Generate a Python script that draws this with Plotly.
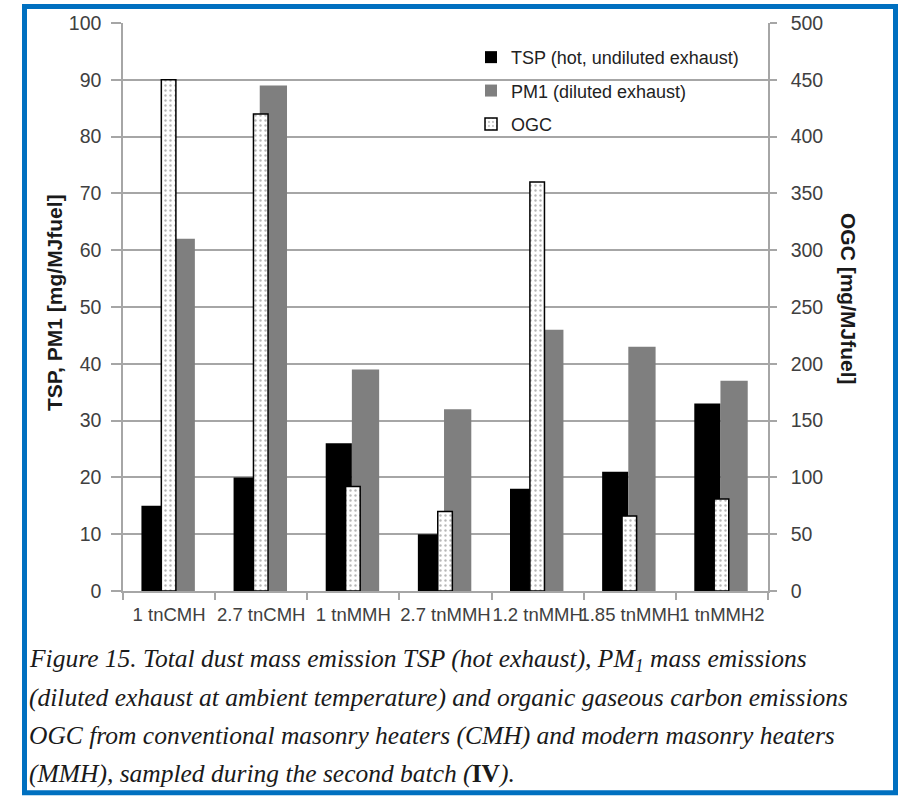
import plotly.graph_objects as go

categories = ["1 tnCMH", "2.7 tnCMH", "1 tnMMH", "2.7 tnMMH", "1.2 tnMMH", "1.85 tnMMH", "1 tnMMH2"]
tsp = [15, 20, 26, 10, 18, 21, 33]
pm1 = [62, 89, 39, 32, 46, 43, 37]
ogc = [450, 420, 92, 70, 360, 66, 81]

caption_lines = [
    "<i>Figure 15. Total dust mass emission TSP (hot exhaust), PM<sub>1</sub> mass emissions</i>",
    "<i>(diluted exhaust at ambient temperature) and organic gaseous carbon emissions</i>",
    "<i>OGC from conventional masonry heaters (CMH) and modern masonry heaters</i>",
    "<i>(MMH), sampled during the second batch (</i><b>IV</b><i>).</i>",
]

W, H = 902, 796
ML, MR, MT, MB = 123, 134, 21, 205
PW = W - ML - MR
PH = H - MT - MB


def xp(px):
    return (px - ML) / PW


def yp(py):
    return (H - MB - py) / PH


GRID = "#a6a6a6"
TXT = "#404040"
FONT = "Liberation Sans, Arial, sans-serif"

fig = go.Figure()
fig.add_trace(go.Bar(
    x=categories, y=tsp, name="TSP (hot, undiluted exhaust)",
    marker=dict(color="black", line=dict(width=0)),
    offset=-0.30, width=0.284, legendgroup="a",
))
fig.add_trace(go.Bar(
    x=categories, y=pm1, name="PM1 (diluted exhaust)",
    marker=dict(color="#7f7f7f", line=dict(width=0)),
    offset=-0.016, width=0.296, legendgroup="b",
))
fig.add_trace(go.Bar(
    x=categories, y=ogc, name="OGC", yaxis="y2",
    marker=dict(color="white", line=dict(color="black", width=1.5),
                pattern=dict(shape=".", fgcolor="#707070", bgcolor="white", size=5, solidity=0.18)),
    offset=-0.084, width=0.158, legendgroup="c",
))

fig.update_layout(
    width=W, height=H,
    margin=dict(l=ML, r=MR, t=MT, b=MB),
    paper_bgcolor="white", plot_bgcolor="white",
    barmode="overlay",
    font=dict(family=FONT, size=18, color=TXT),
    showlegend=True,
    legend=dict(x=xp(471), y=yp(37), xanchor="left", yanchor="top",
                bgcolor="rgba(0,0,0,0)", font=dict(size=18, color="#222"),
                tracegroupgap=7, traceorder="grouped"),
    xaxis=dict(type="category", showgrid=False, showline=True, linecolor=GRID, linewidth=1.5,
               ticks="outside", tickson="boundaries", ticklen=7, tickcolor=GRID, tickwidth=1.5,
               tickangle=0, tickfont=dict(size=18.5, color=TXT), range=[-0.5, 6.5],
               ticklabelstandoff=6),
    yaxis=dict(range=[0, 100], dtick=10, showgrid=True, gridcolor=GRID, gridwidth=1.5,
               showline=True, linecolor=GRID, linewidth=1.5, zeroline=False,
               ticks="outside", ticklen=10, tickcolor=GRID, tickwidth=1.5,
               tickfont=dict(size=19.5, color=TXT), ticklabelstandoff=6),
    yaxis2=dict(range=[0, 500], dtick=50, overlaying="y", side="right", showgrid=False,
                showline=True, linecolor=GRID, linewidth=1.5, zeroline=False,
                ticks="outside", ticklen=7, tickcolor=GRID, tickwidth=1.5,
                tickfont=dict(size=19.5, color=TXT), ticklabelstandoff=10),
)

fig.add_annotation(xref="paper", yref="paper", x=xp(54), y=yp(302), text="<b>TSP, PM1 [mg/MJfuel]</b>",
                   textangle=-90, showarrow=False, font=dict(size=21, color="#1a1a1a"),
                   xanchor="center", yanchor="middle")
fig.add_annotation(xref="paper", yref="paper", x=xp(849), y=yp(298), text="<b>OGC [mg/MJfuel]</b>",
                   textangle=90, showarrow=False, font=dict(size=21, color="#1a1a1a"),
                   xanchor="center", yanchor="middle")

centers = [660, 698, 736, 774]
for line, cy in zip(caption_lines, centers):
    fig.add_annotation(xref="paper", yref="paper", x=xp(27), y=yp(cy), text=line,
                       showarrow=False, xanchor="left", yanchor="middle", align="left",
                       font=dict(family="Liberation Serif, Times New Roman, serif", size=25.5, color="#1a1a1a"))

fig.add_shape(type="rect", xref="paper", yref="paper",
              x0=xp(24.5), x1=xp(895.5), y0=yp(793.5), y1=yp(4.5),
              line=dict(color="#0070C0", width=5), fillcolor="rgba(0,0,0,0)", layer="above")

fig.write_html("out.html")
